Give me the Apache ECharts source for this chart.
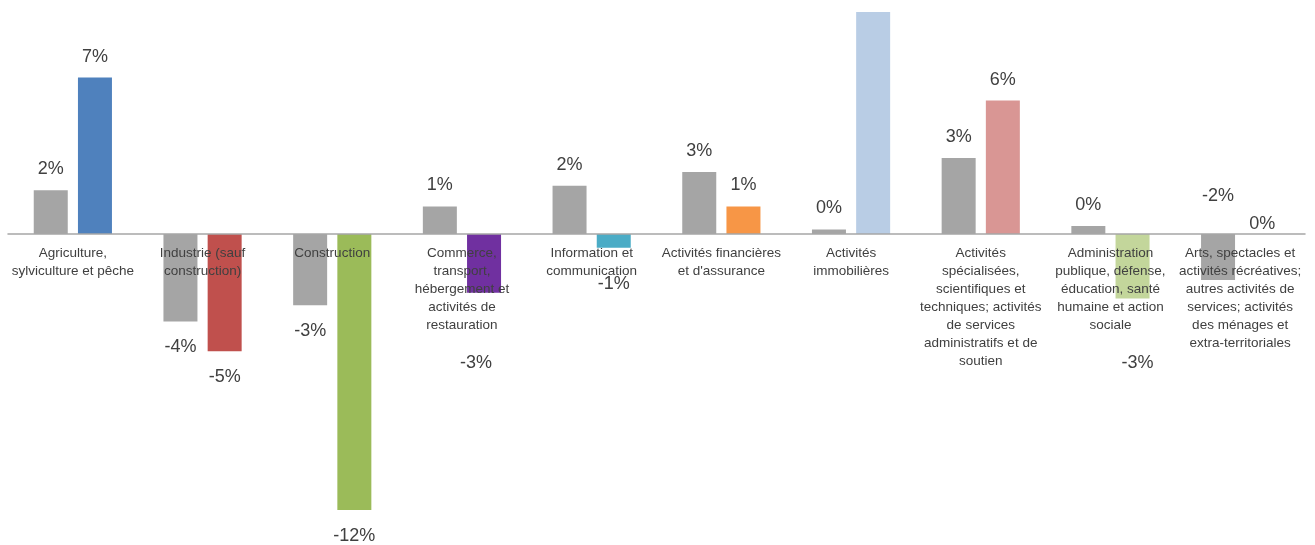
<!DOCTYPE html>
<html>
<head>
<meta charset="utf-8">
<script src="https://cdn.jsdelivr.net/npm/echarts@6/dist/echarts.min.js"></script>
<style>
html,body{margin:0;padding:0;background:#fff;}
#chart{width:1315px;height:545px;}
</style>
</head>
<body>
<div id="chart"></div>
<script>
const categories = [
  "Agriculture,\nsylviculture et pêche",
  "Industrie (sauf\nconstruction)",
  "Construction",
  "Commerce,\ntransport,\nhébergement et\nactivités de\nrestauration",
  "Information et\ncommunication",
  "Activités financières\net d'assurance",
  "Activités\nimmobilières",
  "Activités\nspécialisées,\nscientifiques et\ntechniques; activités\nde services\nadministratifs et de\nsoutien",
  "Administration\npublique, défense,\néducation, santé\nhumaine et action\nsociale",
  "Arts, spectacles et\nactivités récréatives;\nautres activités de\nservices; activités\ndes ménages et\nextra-territoriales"
];
const grayValues = [1.9, -3.8, -3.1, 1.2, 2.1, 2.7, 0.2, 3.3, 0.35, -2.0];
const colorValues = [6.8, -5.1, -12.0, -2.55, -0.6, 1.2, 9.65, 5.8, -2.8, 0];
const grayColor = "#a5a5a5";
const sectorColors = ["#4f81bd", "#c0504d", "#9bbb59", "#7030a0", "#4bacc6", "#f79646", "#b9cde5", "#d99694", "#c3d69b", "#8064a2"];

// label adjustments (layout only)
const grayLabelOffset = {9: [0, -110]};
const colorLabelOffset = {3: [-8, 44], 4: [0, 10], 8: [5, 39], 9: [0, -31]};
const colorLabelHidden = {6: true};

const fmt = p => Math.round(p.value) + '%';
const labelBase = {
  show: true, position: 'outside', distance: 12,
  fontFamily: 'Liberation Sans', fontSize: 18, color: '#404040', formatter: fmt
};

function makeLabel(v, offset, hidden) {
  if (hidden) return {show: false};
  const l = {};
  if (v < 0) l.distance = 17;
  if (offset) l.offset = offset;
  return l;
}

const grayData = grayValues.map((v, i) => ({
  value: v,
  label: makeLabel(v, grayLabelOffset[i], false)
}));
const colorData = colorValues.map((v, i) => ({
  value: v,
  itemStyle: {color: sectorColors[i]},
  label: makeLabel(v, colorLabelOffset[i], colorLabelHidden[i])
}));

const gridTop = 4, gridHeight = 529, yMin = -13, yMax = 10;
const zeroOffset = gridHeight * (0 - yMin) / (yMax - yMin);

const chart = echarts.init(document.getElementById('chart'), null, {renderer: 'canvas'});
chart.setOption({
  animation: false,
  backgroundColor: '#ffffff',
  grid: {left: 8, right: 10, top: gridTop, height: gridHeight, containLabel: false, outerBoundsMode: 'none'},
  xAxis: {
    type: 'category',
    data: categories,
    position: 'bottom',
    offset: -zeroOffset,
    z: 5,
    axisLine: {onZero: false, lineStyle: {color: '#a6a6a6', width: 1.5}},
    axisTick: {show: false},
    axisLabel: {
      interval: 0, margin: 10, fontFamily: 'Liberation Sans', fontSize: 13.5,
      lineHeight: 18, color: '#404040', align: 'center'
    }
  },
  yAxis: {
    type: 'value', min: yMin, max: yMax, show: false,
    splitLine: {show: false}
  },
  series: [
    {
      type: 'bar', name: 'A', data: grayData, barWidth: 34, barGap: '30%',
      itemStyle: {color: grayColor}, label: labelBase
    },
    {
      type: 'bar', name: 'B', data: colorData, barWidth: 34, barGap: '30%',
      label: labelBase
    }
  ]
});
</script>
</body>
</html>
